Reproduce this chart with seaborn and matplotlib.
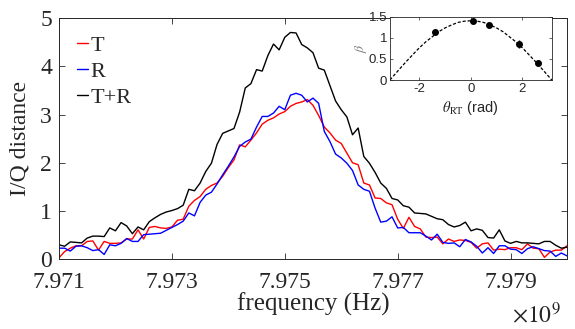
import numpy as np
import pandas as pd
import matplotlib
matplotlib.use("Agg")
import matplotlib.pyplot as plt
import seaborn as sns
from matplotlib.ticker import FixedLocator, FuncFormatter

# ---------------- data ----------------
freq_start_hz = 7.971e9
freq_step_hz = 1.0e5

T = [0.03, 0.16, 0.23, 0.28, 0.28, 0.37, 0.38, 0.19, 0.37, 0.33,
     0.33, 0.34, 0.42, 0.42, 0.61, 0.42, 0.66, 0.68, 0.65, 0.64,
     0.67, 0.81, 0.83, 1.10, 1.22, 1.30, 1.45, 1.53, 1.58, 1.72,
     1.90, 2.06, 2.37, 2.33, 2.47, 2.62, 2.80, 2.88, 2.93, 3.01,
     3.06, 3.17, 3.23, 3.26, 3.31, 3.19, 2.98, 2.74, 2.62, 2.47,
     2.40, 2.20, 2.00, 1.96, 1.58, 1.54, 1.27, 1.26, 1.17, 1.13,
     0.83, 0.64, 0.87, 0.68, 0.63, 0.46, 0.45, 0.46, 0.32, 0.42,
     0.37, 0.40, 0.39, 0.35, 0.23, 0.32, 0.34, 0.19, 0.21, 0.20,
     0.24, 0.24, 0.20, 0.32, 0.23, 0.22, 0.04, 0.15, 0.19, 0.19,
     0.28]

R = [0.23, 0.23, 0.17, 0.27, 0.28, 0.24, 0.18, 0.20, 0.10, 0.30,
     0.28, 0.33, 0.43, 0.37, 0.37, 0.51, 0.52, 0.53, 0.54, 0.60,
     0.66, 0.72, 0.79, 0.96, 0.90, 1.18, 1.33, 1.39, 1.56, 1.75,
     1.93, 2.12, 2.34, 2.43, 2.49, 2.74, 2.96, 2.96, 3.03, 3.17,
     3.10, 3.40, 3.44, 3.40, 3.26, 3.34, 3.23, 2.65, 2.44, 2.18,
     2.10, 1.99, 1.84, 1.54, 1.45, 1.41, 1.06, 0.77, 0.79, 0.88,
     0.65, 0.66, 0.55, 0.55, 0.55, 0.48, 0.40, 0.52, 0.35, 0.33,
     0.34, 0.26, 0.41, 0.36, 0.27, 0.13, 0.24, 0.12, 0.28, 0.28,
     0.21, 0.20, 0.12, 0.22, 0.26, 0.22, 0.18, 0.17, 0.06, 0.13,
     0.07]

TR = [0.30, 0.27, 0.36, 0.35, 0.34, 0.44, 0.48, 0.48, 0.47, 0.65,
      0.59, 0.76, 0.69, 0.53, 0.67, 0.61, 0.78, 0.86, 0.93, 0.98,
      1.01, 1.05, 1.12, 1.45, 1.42, 1.58, 1.82, 1.99, 2.38, 2.61,
      2.66, 2.71, 3.05, 3.55, 3.64, 3.93, 3.90, 4.22, 4.46, 4.34,
      4.60, 4.70, 4.69, 4.45, 4.38, 4.28, 3.96, 3.92, 3.60, 3.28,
      3.10, 2.95, 2.58, 2.72, 2.13, 1.99, 1.80, 1.58, 1.47, 1.26,
      1.23, 1.11, 1.08, 0.96, 0.95, 0.94, 0.89, 0.84, 0.82, 0.72,
      0.67, 0.70, 0.77, 0.59, 0.63, 0.60, 0.45, 0.44, 0.61, 0.38,
      0.33, 0.37, 0.34, 0.34, 0.33, 0.32, 0.37, 0.37, 0.29, 0.23,
      0.25]

series_labels = ["T", "R", "T+R"]
series_colors = ["#ff0000", "#0000ff", "#000000"]

x_ticks_hz = [7.971e9, 7.973e9, 7.975e9, 7.977e9, 7.979e9]
y_ticks = [0, 1, 2, 3, 4, 5]

# inset data
theta_pts = [-1.40, 0.10, 0.70, 1.85, 2.60]
beta_pts = [1.13, 1.39, 1.30, 0.85, 0.40]
beta_err = [0.05, 0.04, 0.04, 0.10, 0.08]
theta_fit = [-3.14, -2.75, -2.50, -2.25, -2.00, -1.75, -1.50, -1.25, -1.00,
             -0.75, -0.50, -0.25, 0.00, 0.25, 0.50, 0.75, 1.00, 1.25, 1.50,
             1.75, 2.00, 2.25, 2.50, 2.75, 3.14]
beta_fit = [0.00, 0.27, 0.44, 0.60, 0.76, 0.90, 1.02, 1.14, 1.23,
            1.30, 1.36, 1.39, 1.40, 1.39, 1.36, 1.30, 1.23, 1.14, 1.02,
            0.90, 0.76, 0.60, 0.44, 0.27, 0.00]
inset_xticks = [-2, 0, 2]
inset_yticks = [0, 0.5, 1, 1.5]
inset_yticklabels = ["0", "0.5", "1", "1.5"]
inset_xticklabels = ["-2", "0", "2"]

# ---------------- style ----------------
sns.set_style("ticks")
plt.rcParams["font.family"] = ["Liberation Serif", "DejaVu Serif"]
plt.rcParams["mathtext.fontset"] = "stix"

gray = "#262626"
sans = ["Liberation Sans", "DejaVu Sans"]

freq = freq_start_hz + freq_step_hz * np.arange(len(T))
df = pd.DataFrame({
    "freq": np.concatenate([freq, freq, freq]),
    "dist": np.concatenate([T, R, TR]),
    "series": ["T"] * len(T) + ["R"] * len(R) + ["T+R"] * len(TR),
})

fig = plt.figure(figsize=(5.75, 3.29), dpi=100)
ax = fig.add_axes([0.1026, 0.2119, 0.8835, 0.7334])

sns.lineplot(data=df, x="freq", y="dist", hue="series", hue_order=series_labels,
             palette=dict(zip(series_labels, series_colors)), linewidth=1.0,
             ax=ax, legend=True)

ax.set_xlim(7.971e9, 7.980e9)
ax.set_ylim(0, 5)
ax.xaxis.set_major_locator(FixedLocator(x_ticks_hz))
ax.xaxis.set_major_formatter(FuncFormatter(lambda v, p: f"{v/1e9:.3f}"))
ax.yaxis.set_major_locator(FixedLocator(y_ticks))
ax.tick_params(direction="in", top=True, right=True, length=4, width=0.6,
               labelsize=17, colors=gray)
ax.tick_params(axis="x", pad=9)
ax.tick_params(axis="y", pad=5)
for sp in ax.spines.values():
    sp.set_visible(True)
    sp.set_color(gray)
    sp.set_linewidth(0.7)
ax.set_xlabel("frequency (Hz)", fontsize=18, color=gray)
ax.set_ylabel("I/Q distance", fontsize=17, color=gray)
ax.xaxis.set_label_coords(0.5, -0.14)
ax.yaxis.set_label_coords(-0.056, 0.5)

handles, labels = ax.get_legend_handles_labels()
leg = ax.legend(handles, labels, loc="upper left", bbox_to_anchor=(0.018, 0.965),
                frameon=False, fontsize=16, handlelength=0.5, handletextpad=0.1,
                labelspacing=0.25, borderaxespad=0)
for t in leg.get_texts():
    t.set_color(gray)

fig.text(0.975, 0.003, r"$\times 10^{9}$", ha="right", va="bottom",
         fontsize=17, color=gray)

# ---------------- inset ----------------
ins = fig.add_axes([0.678, 0.7568, 0.2817, 0.193])
ins.set_facecolor("white")
sns.lineplot(x=theta_fit, y=beta_fit, ax=ins, color="black", linewidth=0.9,
             linestyle=(0, (2.5, 1.5)))
ins.errorbar(theta_pts, beta_pts, yerr=beta_err, fmt="o", color="black",
             markersize=4, elinewidth=1.0, capsize=0)
ins.set_xlim(-np.pi, np.pi)
ins.set_ylim(0, 1.5)
ins.set_xticks(inset_xticks)
ins.set_xticklabels(inset_xticklabels)
ins.set_yticks(inset_yticks)
ins.set_yticklabels(inset_yticklabels)
ins.tick_params(direction="in", top=True, right=True, length=2.5, width=0.5,
                labelsize=9.5, colors=gray, pad=2)
for t in ins.get_xticklabels() + ins.get_yticklabels():
    t.set_family(sans)
for sp in ins.spines.values():
    sp.set_visible(True)
    sp.set_color(gray)
    sp.set_linewidth(0.6)
ins.set_xlabel(r"$\theta_{\mathrm{RT}}$ (rad)", fontsize=10.5, color=gray,
               family=sans, labelpad=3)
ins.set_ylabel(r"$\beta$", fontsize=10, color="#808080", labelpad=0)

fig.savefig("out.png", dpi=100)
